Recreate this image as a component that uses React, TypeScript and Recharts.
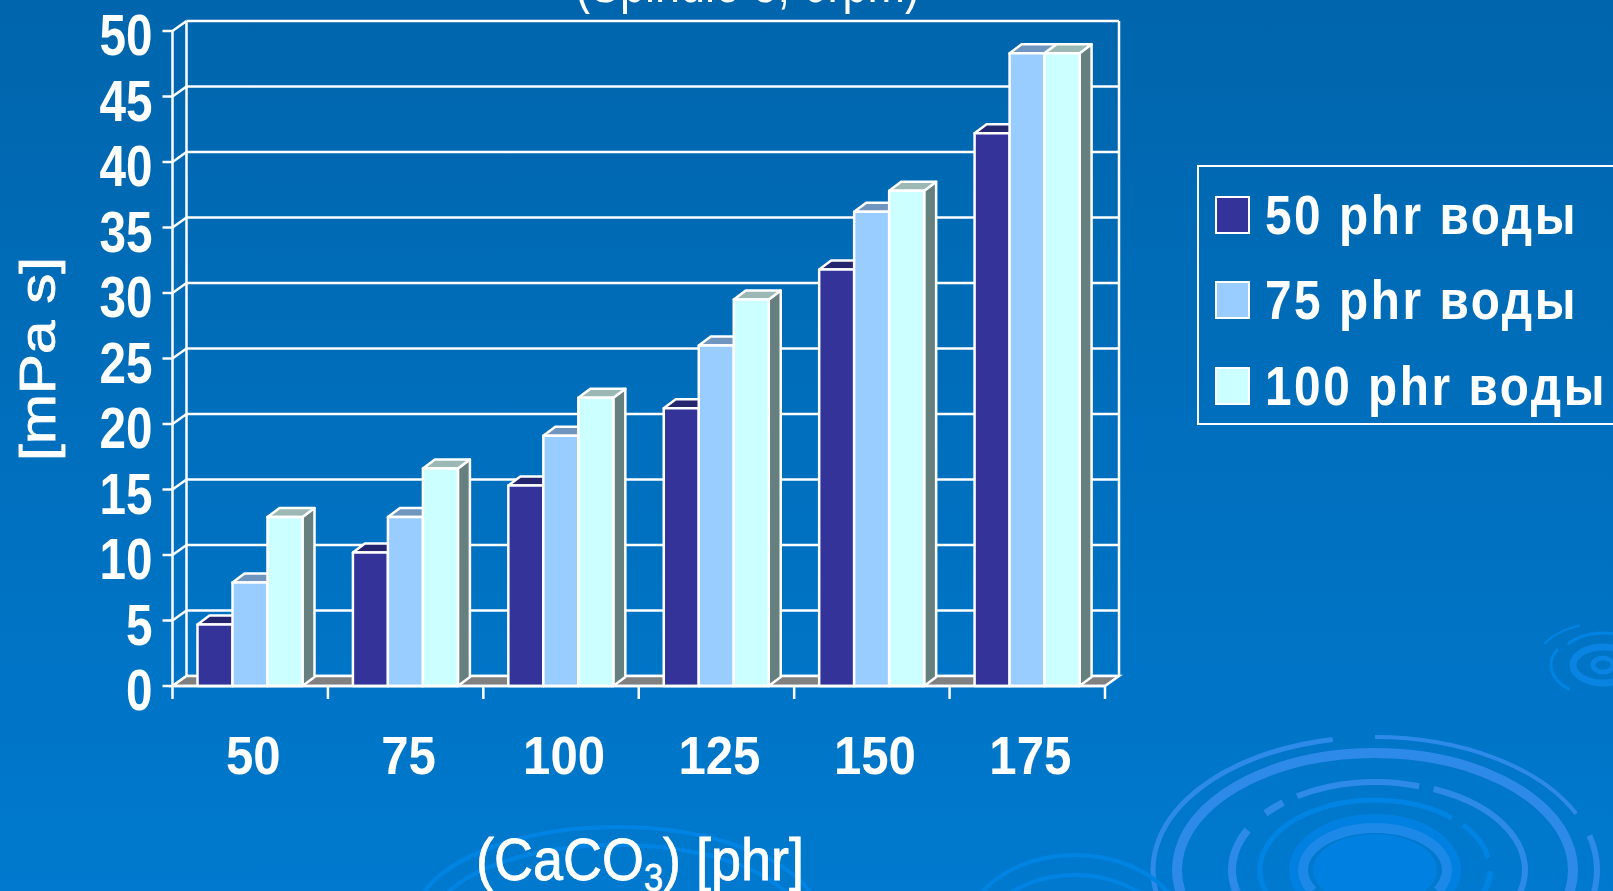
import React from 'react';
import {
  BarChart,
  Bar,
  XAxis,
  YAxis,
  CartesianGrid,
  Legend,
} from 'recharts';

const categories = ['50', '75', '100', '125', '150', '175'];
const water50 = [4.7, 10.2, 15.3, 21.2, 31.8, 42.2];
const water75 = [7.9, 12.9, 19.1, 26, 36.2, 48.3];
const water100 = [12.9, 16.6, 22, 29.5, 37.8, 48.3];
const yTicks = [0, 5, 10, 15, 20, 25, 30, 35, 40, 45, 50];

const chartData = categories.map((category, i) => ({
  category,
  water50: water50[i],
  water75: water75[i],
  water100: water100[i],
}));

const WIDTH = 1613;
const HEIGHT = 891;
const PLOT_LEFT = 172.5;
const PLOT_RIGHT = 1105;
const PLOT_TOP = 31;
const PLOT_BOTTOM = 686;
const BAND = (PLOT_RIGHT - PLOT_LEFT) / categories.length;

// fake 3D depth of the chart box and of the bars
const WALL_DX = 14;
const WALL_DY = 10;
const BAR_DX = 12;
const BAR_DY = 9;

const SANS = '"Liberation Sans", Arial, sans-serif';
const WHITE = '#ffffff';
const RING = '#2e8ae8';
const RING_SOFT = '#0084e4';
const LINE_W = 2.5;

type Arc = { cx: number; cy: number; rx: number; ry: number; from: number; to: number; w: number; color: string };

const arcs: Arc[] = [
  // large swirl, bottom right
  { cx: 1375, cy: 870, rx: 222, ry: 133, from: 101, to: 195, w: 5, color: RING },
  { cx: 1375, cy: 870, rx: 222, ry: 133, from: 25, to: 90, w: 4, color: RING },
  { cx: 1375, cy: 870, rx: 222, ry: 133, from: -25, to: 15, w: 6, color: RING },
  { cx: 1375, cy: 870, rx: 198, ry: 117, from: -30, to: 210, w: 10, color: RING },
  { cx: 1375, cy: 870, rx: 143, ry: 88, from: 153, to: 195, w: 8, color: RING },
  { cx: 1375, cy: 870, rx: 143, ry: 88, from: 130, to: 140, w: 7, color: RING },
  { cx: 1375, cy: 870, rx: 143, ry: 88, from: 72, to: 123, w: 6, color: RING },
  { cx: 1375, cy: 870, rx: 150, ry: 88, from: -15, to: 67, w: 6, color: RING },
  { cx: 1375, cy: 870, rx: 115, ry: 70, from: 48, to: 200, w: 5, color: RING_SOFT },
  { cx: 1375, cy: 870, rx: 115, ry: 70, from: 10, to: 40, w: 5, color: RING_SOFT },
  { cx: 1375, cy: 870, rx: 115, ry: 70, from: -25, to: -1, w: 6, color: RING_SOFT },
  { cx: 1375, cy: 870, rx: 72, ry: 42, from: -30, to: 210, w: 10, color: '#1c88e8' },
  // smaller swirls along the bottom edge
  { cx: 617, cy: 925, rx: 205, ry: 98, from: 15, to: 165, w: 4, color: RING_SOFT },
  { cx: 617, cy: 925, rx: 185, ry: 80, from: 15, to: 165, w: 4, color: RING_SOFT },
  { cx: 1075, cy: 935, rx: 110, ry: 80, from: 30, to: 150, w: 4, color: RING_SOFT },
  { cx: 1075, cy: 935, rx: 90, ry: 60, from: 30, to: 150, w: 4, color: RING_SOFT },
  // swirl on the right edge
  { cx: 1603, cy: 665, rx: 68, ry: 42, from: 110, to: 150, w: 2, color: RING_SOFT },
  { cx: 1603, cy: 665, rx: 52, ry: 32, from: 150, to: 230, w: 3, color: RING_SOFT },
  { cx: 1603, cy: 665, rx: 46, ry: 32, from: 70, to: 140, w: 3, color: RING_SOFT },
  { cx: 1603, cy: 665, rx: 30, ry: 18, from: 0, to: 360, w: 7, color: '#0a84e2' },
  { cx: 1603, cy: 665, rx: 10, ry: 7, from: 0, to: 360, w: 5, color: '#0a84e2' },
];

function arcPath({ cx, cy, rx, ry, from, to }: Arc) {
  const rad = (deg: number) => (deg * Math.PI) / 180;
  const x1 = cx + rx * Math.cos(rad(to));
  const y1 = cy - ry * Math.sin(rad(to));
  const x2 = cx + rx * Math.cos(rad(from));
  const y2 = cy - ry * Math.sin(rad(from));
  const span = to - from;
  if (span >= 360) return `M${cx - rx},${cy}A${rx},${ry} 0 1 1 ${cx + rx},${cy}A${rx},${ry} 0 1 1 ${cx - rx},${cy}Z`;
  return `M${x1},${y1}A${rx},${ry} 0 ${span > 180 ? 1 : 0} 1 ${x2},${y2}`;
}

function Backdrop() {
  return (
    <svg width={WIDTH} height={HEIGHT} style={{ position: 'absolute', left: 0, top: 0 }}>
      <defs>
        <linearGradient id="slide" x1="0" y1="0" x2="0" y2="1">
          <stop offset="0" stopColor="#0065ac" />
          <stop offset="1" stopColor="#0079ce" />
        </linearGradient>
      </defs>
      <rect width={WIDTH} height={HEIGHT} fill="url(#slide)" />
      <ellipse cx={1375} cy={870} rx={62} ry={36} fill="#0080e0" />
      <ellipse cx={1375} cy={870} rx={80} ry={50} fill="none" stroke="#0080e0" strokeWidth={12} />
      {arcs.map((a, i) => (
        <path key={i} d={arcPath(a)} fill="none" stroke={a.color} strokeWidth={a.w} />
      ))}
    </svg>
  );
}

// one horizontal grid line on the back wall, plus its diagonal back to the front axis
function gridLine(props: any) {
  const { x1, x2, y1 } = props;
  const backY = y1 - WALL_DY;
  const line = { stroke: WHITE, strokeWidth: LINE_W, fill: 'none' };
  return (
    <g key={props.key}>
      <line x1={x1 + WALL_DX} x2={x2 + WALL_DX} y1={backY} y2={backY} {...line} />
      <line x1={x1} x2={x1 + WALL_DX} y1={y1} y2={backY} {...line} />
      {Math.abs(y1 - PLOT_TOP) < 1 && (
        <>
          <line x1={x1 + WALL_DX} x2={x1 + WALL_DX} y1={backY} y2={PLOT_BOTTOM - WALL_DY} {...line} />
          <line x1={x2 + WALL_DX} x2={x2 + WALL_DX} y1={backY} y2={PLOT_BOTTOM - WALL_DY} {...line} />
        </>
      )}
      {Math.abs(y1 - PLOT_BOTTOM) < 1 && (
        <polygon
          points={`${x1},${y1} ${x2},${y1} ${x2 + WALL_DX},${backY} ${x1 + WALL_DX},${backY}`}
          fill="#808080"
          stroke={WHITE}
          strokeWidth={LINE_W}
        />
      )}
    </g>
  );
}

function makeBarShape(topColor: string, sideColor: string) {
  return function BoxBar(props: any) {
    const { x, y, width, height, fill } = props;
    const right = x + width;
    const base = y + height;
    const edge = { stroke: WHITE, strokeWidth: LINE_W, strokeLinejoin: 'round' as const };
    return (
      <g>
        <polygon
          points={`${right},${y} ${right + BAR_DX},${y - BAR_DY} ${right + BAR_DX},${base - BAR_DY} ${right},${base}`}
          fill={sideColor}
          {...edge}
        />
        <polygon
          points={`${x},${y} ${x + BAR_DX},${y - BAR_DY} ${right + BAR_DX},${y - BAR_DY} ${right},${y}`}
          fill={topColor}
          {...edge}
        />
        <rect x={x} y={y} width={width} height={height} fill={fill} {...edge} />
      </g>
    );
  };
}

// the sans face is squeezed horizontally, no narrow cut is installed
function YTick({ x, y, payload }: any) {
  const label = String(payload.value);
  return (
    <text
      x={x}
      y={y + 24}
      textAnchor="end"
      fill={WHITE}
      fontFamily={SANS}
      fontWeight={700}
      fontSize={58}
      textLength={label.length * 26.5}
      lengthAdjust="spacingAndGlyphs"
    >
      {label}
    </text>
  );
}

// tick marks sit on the category edges, the labels between them
function XTick({ x, y, payload, index }: any) {
  const left = x - BAND / 2;
  const tickLine = { stroke: WHITE, strokeWidth: LINE_W };
  const label = String(payload.value);
  return (
    <g>
      <line x1={left} x2={left} y1={PLOT_BOTTOM} y2={PLOT_BOTTOM + 13} {...tickLine} />
      {index === categories.length - 1 && (
        <line x1={left + BAND} x2={left + BAND} y1={PLOT_BOTTOM} y2={PLOT_BOTTOM + 13} {...tickLine} />
      )}
      <text
        x={x + 3}
        y={y + 80}
        textAnchor="middle"
        fill={WHITE}
        fontFamily={SANS}
        fontWeight={700}
        fontSize={54}
        textLength={label.length * 27.3}
        lengthAdjust="spacingAndGlyphs"
      >
        {label}
      </text>
    </g>
  );
}

function XTitle() {
  return (
    <text
      transform="translate(476,880) scale(0.9,1)"
      fill={WHITE}
      stroke={WHITE}
      strokeWidth={0.8}
      fontFamily={SANS}
      fontSize={60}
    >
      (CaCO
      <tspan fontSize={38} dy={11}>3</tspan>
      <tspan dy={-11}>) [phr]</tspan>
    </text>
  );
}

function LegendBox({ payload }: any) {
  return (
    <div
      style={{
        boxSizing: 'border-box',
        width: 450,
        height: 260,
        border: '2px solid #ffffff',
        padding: '5px 0 0 16px',
      }}
    >
      {(payload || []).map((item: any) => (
        <div key={item.value} style={{ display: 'flex', alignItems: 'center', height: 85.5 }}>
          <div
            style={{
              boxSizing: 'border-box',
              width: 35,
              height: 38,
              background: item.color,
              border: '2px solid #ffffff',
              flex: 'none',
            }}
          />
          <svg width={360} height={70} style={{ marginLeft: 15, flex: 'none', overflow: 'visible' }}>
            <text
              x={0}
              y={54}
              fill={WHITE}
              fontFamily={SANS}
              fontWeight={700}
              fontSize={56}
              letterSpacing={3}
              textLength={item.value.startsWith('100') ? 342 : 313}
              lengthAdjust="spacingAndGlyphs"
            >
              {item.value}
            </text>
          </svg>
        </div>
      ))}
    </div>
  );
}

export default function App() {
  return (
    <div style={{ position: 'absolute', left: 0, top: 0, width: WIDTH, height: HEIGHT, overflow: 'hidden' }}>
      <Backdrop />
      <div style={{ position: 'absolute', left: 0, top: 0 }}>
        <BarChart
          width={WIDTH}
          height={HEIGHT}
          data={chartData}
          barGap={0}
          barSize={35}
          margin={{ top: PLOT_TOP, right: WIDTH - PLOT_RIGHT, bottom: HEIGHT - PLOT_BOTTOM - 100, left: 12.5 }}
        >
          <CartesianGrid vertical={false} horizontal={gridLine} />
          <XAxis
            dataKey="category"
            height={100}
            interval={0}
            axisLine={{ stroke: WHITE, strokeWidth: LINE_W }}
            tickLine={false}
            tick={<XTick />}
          />
          <YAxis
            width={160}
            domain={[0, 50]}
            ticks={yTicks}
            interval={0}
            axisLine={{ stroke: WHITE, strokeWidth: LINE_W }}
            tickLine={{ stroke: WHITE, strokeWidth: LINE_W }}
            tickSize={10}
            tickMargin={10}
            tick={<YTick />}
          />
          <Bar
            dataKey="water50"
            name="50 phr воды"
            fill="#333399"
            shape={makeBarShape('#26266f', '#22226a')}
            isAnimationActive={false}
          />
          <Bar
            dataKey="water75"
            name="75 phr воды"
            fill="#99ccff"
            shape={makeBarShape('#7095bf', '#668299')}
            isAnimationActive={false}
          />
          <Bar
            dataKey="water100"
            name="100 phr воды"
            fill="#ccffff"
            shape={makeBarShape('#9cb8b4', '#668080')}
            isAnimationActive={false}
          />
          <Legend
            layout="vertical"
            align="center"
            verticalAlign="middle"
            itemSorter={null}
            content={<LegendBox />}
            wrapperStyle={{ left: 1197, top: 165, width: 450, height: 260, margin: 0 }}
          />
          <text
            x={575}
            y={2}
            fill={WHITE}
            fontFamily={SANS}
            fontSize={60}
            textLength={345}
            lengthAdjust="spacingAndGlyphs"
          >
            (Spindle 3, 6rpm)
          </text>
          <text
            transform="translate(55,359) rotate(-90)"
            textAnchor="middle"
            fill={WHITE}
            stroke={WHITE}
            strokeWidth={0.8}
            fontFamily={SANS}
            fontSize={50}
            textLength={204}
            lengthAdjust="spacingAndGlyphs"
          >
            [mPa s]
          </text>
          <XTitle />
        </BarChart>
      </div>
    </div>
  );
}
